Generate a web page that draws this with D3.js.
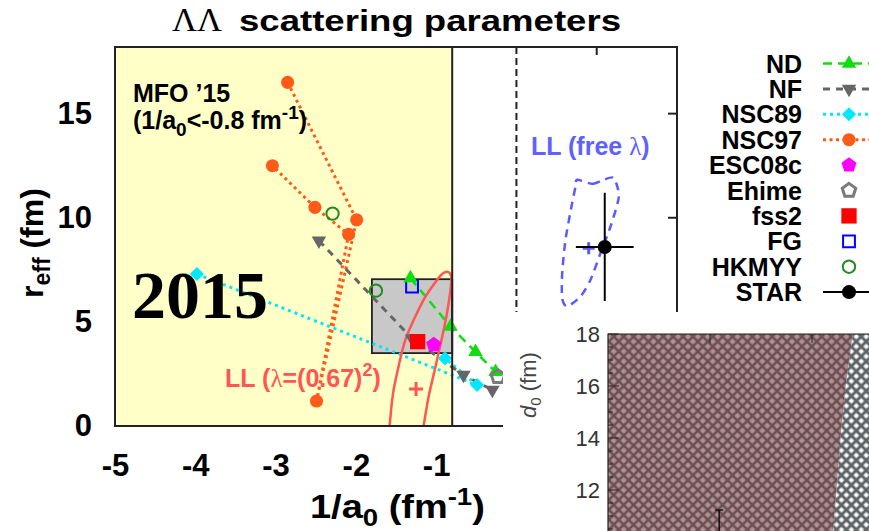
<!DOCTYPE html>
<html><head><meta charset="utf-8">
<script src="https://cdn.jsdelivr.net/npm/d3@7"></script>
<style>body{margin:0;background:#fff}svg{display:block}</style>
</head><body><svg id="c" width="869" height="531" font-family="Liberation Sans, Arial, sans-serif"></svg>
<script>
// ---------------- data ----------------
const xTicks = [-5, -4, -3, -2, -1];
const yTicks = [0, 5, 10, 15];
const rightYTicks = [5, 10, 15];
const topXTicks = [1];
const mfoLimit = -0.8;
const grayBox = [[-1.8, 3.5], [-0.8, 7.05]];
const ndPts = [[-1.32, 7.1], [-0.82, 4.77], [-0.51, 3.56], [-0.26, 2.6]];
const nfPts = [[-2.46, 8.9], [-1.3, 4.2], [-0.66, 2.45], [-0.3, 1.73]];
const nsc89Pts = [[-3.98, 7.3], [-0.49, 1.97], [-0.89, 3.25]];
const nsc97Pts = [[-2.85, 16.5], [-1.99, 9.9], [-2.49, 1.2], [-2.09, 9.2], [-2.51, 10.5], [-3.04, 12.5]];
const esc08cPts = [[-1.03, 3.9]];
const ehimePts = [[-0.23, 2.36]];
const fss2Pts = [[-1.23, 4.05]];
const fgPts = [[-1.3, 6.7]];
const hkmyyPts = [[-2.29, 10.2], [-1.75, 6.5]];
const starPt = [1.10, 8.6];
const starXErr = [0.74, 1.46];
const starYErr = [6.0, 11.2];
const llRedContour = [[-0.854, 7.40], [-0.81, 7.02], [-0.873, 5.25], [-0.989, 3.17], [-1.094, 1.41], [-1.156, 0.0],
  [-1.22, -1.63], [-1.45, -2.6], [-1.62, -1.63], [-1.58, 0.0], [-1.53, 1.73], [-1.384, 4.13], [-1.156, 6.06], [-0.948, 7.21]];
const llRedBest = [-1.25, 1.78];
const llBlueContour = [[0.757, 11.83], [0.944, 11.63], [1.089, 11.83], [1.213, 11.91], [1.276, 11.02], [1.172, 9.58],
  [1.047, 8.30], [0.923, 7.02], [0.798, 6.22], [0.632, 5.74], [0.570, 6.14], [0.570, 7.34], [0.611, 8.94], [0.686, 10.54], [0.736, 11.5]];
const llBlueBest = [0.90, 8.54];
const legendNames = ["ND", "NF", "NSC89", "NSC97", "ESC08c", "Ehime", "fss2", "FG", "HKMYY", "STAR"];
// inset (d0 panel)
const insetYTicks = [12, 14, 16, 18];
const insetXTicks = [1, 2];
const hatchEdge = [[2.4, 18], [2.33, 16], [2.28, 14], [2.24, 12], [2.2, 10]];
const insetBar = [1.09, 11.23];
const insetDark = [[0.5, 10.4], [1.03, 10.4], [1.03, 10], [0.5, 10]];

// ---------------- setup ----------------
const svg = d3.select('#c');
const x = d3.scaleLinear().domain([-5, 2]).range([115, 677]);
const y = d3.scaleLinear().domain([0, 18.2]).range([426, 47]);
const defs = svg.append('defs');
defs.append('clipPath').attr('id', 'mainClip').append('rect')
  .attr('x', x(-5)).attr('y', y(18.2)).attr('width', x(2) - x(-5)).attr('height', y(0) - y(18.2));

const colors = {ND: '#10dd10', NF: '#666666', NSC89: '#00e8ff', NSC97: '#ff5a1a', ESC08c: '#ff00ff',
  Ehime: '#7a7a7a', fss2: '#ff0000', FG: '#0000ff', HKMYY: '#228b22', STAR: '#000000'};

const pentagon = {draw(ctx, size) {
  const r = Math.sqrt(size / 2.3776);
  for (let i = 0; i < 5; i++) {
    const a = -Math.PI / 2 + i * 2 * Math.PI / 5;
    const px = r * Math.cos(a), py = r * Math.sin(a);
    if (i === 0) ctx.moveTo(px, py); else ctx.lineTo(px, py);
  }
  ctx.closePath();
}};

const markerSpec = {
  ND: {type: d3.symbolTriangle, size: 90, fill: colors.ND, stroke: 'none', rot: 0},
  NF: {type: d3.symbolTriangle, size: 90, fill: colors.NF, stroke: 'none', rot: 180},
  NSC89: {type: d3.symbolSquare, size: 100, fill: colors.NSC89, stroke: 'none', rot: 45},
  NSC97: {type: d3.symbolCircle, size: 135, fill: colors.NSC97, stroke: 'none', rot: 0},
  ESC08c: {type: pentagon, size: 150, fill: colors.ESC08c, stroke: 'none', rot: 0},
  Ehime: {type: pentagon, size: 120, fill: 'none', stroke: colors.Ehime, sw: 3, rot: 0},
  fss2: {type: d3.symbolSquare, size: 235, fill: colors.fss2, stroke: 'none', rot: 0},
  FG: {type: d3.symbolSquare, size: 140, fill: 'none', stroke: colors.FG, sw: 2, rot: 0},
  HKMYY: {type: d3.symbolCircle, size: 120, fill: 'none', stroke: colors.HKMYY, sw: 2, rot: 0},
  STAR: {type: d3.symbolCircle, size: 155, fill: colors.STAR, stroke: 'none', rot: 0}
};
const lineSpec = {
  ND: {dash: '9,6', w: 2.5}, NF: {dash: '7,6', w: 3}, NSC89: {dash: '3,4', w: 3}, NSC97: {dash: '3,3.5', w: 3}, STAR: {dash: null, w: 2}
};

function drawMarkers(g, pts, name) {
  const m = markerSpec[name];
  g.selectAll(null).data(pts).join('path')
    .attr('d', d3.symbol().type(m.type).size(m.size))
    .attr('transform', d => `translate(${x(d[0])},${y(d[1])}) rotate(${m.rot})`)
    .attr('fill', m.fill).attr('stroke', m.stroke).attr('stroke-width', m.sw || 0);
}
function drawLine(g, pts, name) {
  const s = lineSpec[name];
  g.append('path').datum(pts)
    .attr('d', d3.line().x(d => x(d[0])).y(d => y(d[1])))
    .attr('fill', 'none').attr('stroke', colors[name]).attr('stroke-width', s.w)
    .attr('stroke-dasharray', s.dash);
}

// ---------------- title ----------------
svg.append('text').attr('x', 172).attr('y', 31).attr('font-family', 'Liberation Serif, serif')
  .attr('font-size', 34).attr('fill', '#000').attr('textLength', 50).attr('lengthAdjust', 'spacingAndGlyphs').text('ΛΛ');
svg.append('text').attr('x', 239).attr('y', 31).attr('font-size', 30).attr('font-weight', 'bold')
  .attr('textLength', 382).attr('lengthAdjust', 'spacingAndGlyphs').text('scattering parameters');

// ---------------- main plot ----------------
const plot = svg.append('g').attr('clip-path', 'url(#mainClip)');
plot.append('rect').attr('x', x(-5)).attr('y', y(18.2)).attr('width', x(mfoLimit) - x(-5)).attr('height', y(0) - y(18.2))
  .attr('fill', '#ffffc8');
plot.append('rect').attr('x', x(grayBox[0][0])).attr('y', y(grayBox[1][1]))
  .attr('width', x(grayBox[1][0]) - x(grayBox[0][0])).attr('height', y(grayBox[0][1]) - y(grayBox[1][1]))
  .attr('fill', '#c8c8c8').attr('stroke', '#222').attr('stroke-width', 1.8);
plot.append('line').attr('x1', x(0)).attr('x2', x(0)).attr('y1', y(18.2)).attr('y2', y(0))
  .attr('stroke', '#222').attr('stroke-width', 2).attr('stroke-dasharray', '7,4');

// model lines
drawLine(plot, nsc97Pts, 'NSC97');
drawLine(plot, nsc89Pts, 'NSC89');
drawLine(plot, nfPts, 'NF');
drawLine(plot, ndPts, 'ND');

// LL contours
plot.append('path').datum(llRedContour)
  .attr('d', d3.line().x(d => x(d[0])).y(d => y(d[1])).curve(d3.curveCardinalClosed.tension(0.3)))
  .attr('fill', 'none').attr('stroke', '#ff5555').attr('stroke-width', 2.5);
plot.append('path').datum(llBlueContour)
  .attr('d', d3.line().x(d => x(d[0])).y(d => y(d[1])).curve(d3.curveCardinalClosed.tension(0.3)))
  .attr('fill', 'none').attr('stroke', '#5a5aff').attr('stroke-width', 2.5).attr('stroke-dasharray', '8,6');

function plus(g, p, color, half, w) {
  g.append('path').attr('d', `M${x(p[0]) - half},${y(p[1])}H${x(p[0]) + half}M${x(p[0])},${y(p[1]) - half}V${y(p[1]) + half}`)
    .attr('stroke', color).attr('stroke-width', w).attr('fill', 'none');
}
plus(plot, llRedBest, '#ff5555', 7, 3);
plus(plot, llBlueBest, '#5a5aff', 6, 3);

// markers
drawMarkers(plot, nsc97Pts, 'NSC97');
drawMarkers(plot, nsc89Pts, 'NSC89');
drawMarkers(plot, nfPts, 'NF');
drawMarkers(plot, hkmyyPts, 'HKMYY');
drawMarkers(plot, fgPts, 'FG');
drawMarkers(plot, ndPts, 'ND');
drawMarkers(plot, fss2Pts, 'fss2');
drawMarkers(plot, esc08cPts, 'ESC08c');
drawMarkers(plot, ehimePts, 'Ehime');

// STAR
plot.append('line').attr('x1', x(starXErr[0])).attr('x2', x(starXErr[1])).attr('y1', y(starPt[1])).attr('y2', y(starPt[1]))
  .attr('stroke', '#000').attr('stroke-width', 2);
plot.append('line').attr('x1', x(starPt[0])).attr('x2', x(starPt[0])).attr('y1', y(starYErr[0])).attr('y2', y(starYErr[1]))
  .attr('stroke', '#000').attr('stroke-width', 2);
drawMarkers(plot, [starPt], 'STAR');

// frame & boundary
svg.append('line').attr('x1', x(mfoLimit)).attr('x2', x(mfoLimit)).attr('y1', y(18.2)).attr('y2', y(0))
  .attr('stroke', '#222').attr('stroke-width', 2);
svg.append('rect').attr('x', x(-5)).attr('y', y(18.2)).attr('width', x(2) - x(-5)).attr('height', y(0) - y(18.2))
  .attr('fill', 'none').attr('stroke', '#222').attr('stroke-width', 2);
svg.selectAll(null).data(rightYTicks).join('line')
  .attr('x1', x(2) - 9).attr('x2', x(2)).attr('y1', d => y(d)).attr('y2', d => y(d)).attr('stroke', '#222').attr('stroke-width', 2);
svg.selectAll(null).data(topXTicks).join('line')
  .attr('x1', d => x(d)).attr('x2', d => x(d)).attr('y1', y(18.2)).attr('y2', y(18.2) + 8).attr('stroke', '#222').attr('stroke-width', 2);

// axes
const xAxis = svg.append('g').attr('transform', `translate(0,${y(0)})`)
  .call(d3.axisBottom(x).tickValues(xTicks).tickFormat(d => String(d)).tickSize(0).tickPadding(28));
xAxis.select('.domain').remove();
xAxis.selectAll('text').attr('font-size', 31).attr('font-weight', 'bold').attr('fill', '#000')
  .attr('font-family', 'Liberation Sans, Arial, sans-serif');
const yAxis = svg.append('g').attr('transform', `translate(${x(-5)},0)`)
  .call(d3.axisLeft(y).tickValues(yTicks).tickFormat(d => String(d)).tickSize(0).tickPadding(23));
yAxis.select('.domain').remove();
yAxis.selectAll('text').attr('font-size', 31).attr('font-weight', 'bold').attr('fill', '#000')
  .attr('font-family', 'Liberation Sans, Arial, sans-serif');

// axis titles
const xt = svg.append('text').attr('transform', 'translate(310,518) scale(1.15,1)').attr('font-size', 33).attr('font-weight', 'bold');
xt.append('tspan').text('1/a');
xt.append('tspan').attr('font-size', 24).attr('dy', 8).text('0');
xt.append('tspan').attr('dy', -8).text(' (fm');
xt.append('tspan').attr('font-size', 24).attr('dy', -13).text('-1');
xt.append('tspan').attr('dy', 13).text(')');

const yt = svg.append('text').attr('transform', 'translate(43,298) rotate(-90)').attr('font-size', 32).attr('font-weight', 'bold');
yt.append('tspan').text('r');
yt.append('tspan').attr('font-size', 23).attr('dy', 7).text('eff');
yt.append('tspan').attr('dy', -7).text(' (fm)');

// annotations
svg.append('text').attr('x', 133).attr('y', 102).attr('font-size', 25).attr('font-weight', 'bold').text('MFO ’15');
const mfo = svg.append('text').attr('x', 133).attr('y', 129).attr('font-size', 25).attr('font-weight', 'bold');
mfo.append('tspan').text('(1/a');
mfo.append('tspan').attr('font-size', 19).attr('dy', 7).text('0');
mfo.append('tspan').attr('dy', -7).text('<-0.8 fm');
mfo.append('tspan').attr('font-size', 19).attr('dy', -10).text('-1');
mfo.append('tspan').attr('dy', 10).text(')');

const llr = svg.append('text').attr('x', 225).attr('y', 387).attr('font-size', 25).attr('font-weight', 'bold').attr('fill', '#ff5555');
llr.append('tspan').text('LL (');
llr.append('tspan').attr('font-family', 'Liberation Serif, serif').attr('font-weight', 'normal').text('λ');
llr.append('tspan').text('=(0.67)');
llr.append('tspan').attr('font-size', 18).attr('dy', -11).text('2');
llr.append('tspan').attr('dy', 11).text(')');

const llb = svg.append('text').attr('x', 531).attr('y', 155).attr('font-size', 25).attr('font-weight', 'bold').attr('fill', '#6060ff');
llb.append('tspan').text('LL (free ');
llb.append('tspan').attr('font-family', 'Liberation Serif, serif').attr('font-weight', 'normal').text('λ');
llb.append('tspan').text(')');

svg.append('text').attr('x', 132).attr('y', 318).attr('font-family', 'Liberation Serif, Times New Roman, serif')
  .attr('font-size', 68).attr('font-weight', 'bold').attr('fill', '#000').text('2015');

// ---------------- inset (d0 panel) ----------------
const ix = d3.scaleLinear().domain([0, 3]).range([608, 914]);
const iy = d3.scaleLinear().domain([10, 18]).range([542, 334]);
const pBrown = defs.append('pattern').attr('id', 'hBrown').attr('patternUnits', 'userSpaceOnUse')
  .attr('width', 7).attr('height', 7).attr('patternTransform', 'rotate(45)');
pBrown.append('rect').attr('width', 7).attr('height', 7).attr('fill', '#6b5053');
pBrown.append('rect').attr('x', 1.3).attr('y', 1.3).attr('width', 4.4).attr('height', 4.4).attr('fill', '#b39194');
const pGray = defs.append('pattern').attr('id', 'hGray').attr('patternUnits', 'userSpaceOnUse')
  .attr('width', 7).attr('height', 7).attr('patternTransform', 'rotate(45)');
pGray.append('rect').attr('width', 7).attr('height', 7).attr('fill', '#5e6466');
pGray.append('rect').attr('x', 1.5).attr('y', 1.5).attr('width', 4).attr('height', 4).attr('fill', '#ffffff');
defs.append('clipPath').attr('id', 'insetClip').append('rect')
  .attr('x', ix(0)).attr('y', iy(18)).attr('width', 869 - ix(0)).attr('height', 531 - iy(18));

const inset = svg.append('g');
inset.append('rect').attr('x', 503).attr('y', 312).attr('width', 366).attr('height', 219).attr('fill', '#fff');
const ig = inset.append('g').attr('clip-path', 'url(#insetClip)');
const brownPoly = [[0, 18]].concat(hatchEdge, [[0, 10]]);
const grayPoly = hatchEdge.concat([[3, 10], [3, 18]]);
const pl = d3.line().x(d => ix(d[0])).y(d => iy(d[1]));
ig.append('path').datum(grayPoly).attr('d', d => pl(d) + 'Z').attr('fill', 'url(#hGray)');
ig.append('path').datum(brownPoly).attr('d', d => pl(d) + 'Z').attr('fill', 'url(#hBrown)');
ig.append('path').datum(insetDark).attr('d', d => pl(d) + 'Z').attr('fill', '#5a5a5a').attr('opacity', 0.6);
ig.append('path').attr('d', `M${ix(insetBar[0]) - 4},${iy(insetBar[1])}H${ix(insetBar[0]) + 4}M${ix(insetBar[0])},${iy(insetBar[1])}V${iy(9)}`)
  .attr('stroke', '#111').attr('stroke-width', 1.5).attr('fill', 'none');
// axes
inset.append('path').attr('d', `M${ix(0)},531V${iy(18)}H869`).attr('stroke', '#222').attr('stroke-width', 1.2).attr('fill', 'none');
const minorY = d3.range(10, 18.01, 0.5);
inset.selectAll(null).data(minorY).join('line')
  .attr('x1', ix(0)).attr('x2', d => ix(0) + (d % 2 === 0 ? 11 : 5)).attr('y1', d => iy(d)).attr('y2', d => iy(d))
  .attr('stroke', '#222').attr('stroke-width', 1);
inset.selectAll(null).data(insetXTicks).join('line')
  .attr('x1', d => ix(d)).attr('x2', d => ix(d)).attr('y1', iy(18)).attr('y2', iy(18) + 9)
  .attr('stroke', '#222').attr('stroke-width', 1);
inset.selectAll(null).data(insetYTicks).join('text')
  .attr('x', 600).attr('y', d => iy(d)).attr('dy', '0.36em').attr('text-anchor', 'end')
  .attr('font-size', 22).attr('fill', '#333').text(d => d);
const dl = inset.append('text').attr('transform', 'translate(536,418) rotate(-90)').attr('font-size', 22).attr('fill', '#444');
dl.append('tspan').attr('font-style', 'italic').text('d');
dl.append('tspan').attr('font-size', 15).attr('dy', 5).text('0');
dl.append('tspan').attr('dy', -5).text(' (fm)');

// ---------------- legend ----------------
const lg = svg.append('g');
const rowY = i => 63.5 + i * 25.4;
legendNames.forEach((name, i) => {
  const cy = rowY(i);
  lg.append('text').attr('x', 802).attr('y', cy).attr('dy', '0.36em').attr('text-anchor', 'end')
    .attr('font-size', 25).attr('font-weight', 'bold').text(name);
  if (lineSpec[name]) {
    lg.append('line').attr('x1', 823).attr('x2', 880).attr('y1', cy).attr('y2', cy)
      .attr('stroke', colors[name]).attr('stroke-width', lineSpec[name].w).attr('stroke-dasharray', lineSpec[name].dash);
  }
  const m = markerSpec[name];
  lg.append('path').attr('d', d3.symbol().type(m.type).size(m.size))
    .attr('transform', `translate(849,${cy}) rotate(${m.rot})`)
    .attr('fill', m.fill).attr('stroke', m.stroke).attr('stroke-width', m.sw || 0);
});
</script></body></html>
